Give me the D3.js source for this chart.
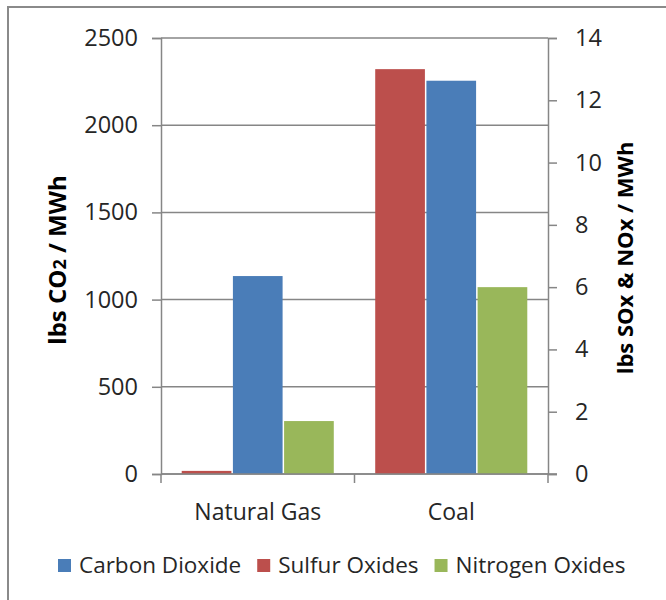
<!DOCTYPE html>
<html>
<head>
<meta charset="utf-8">
<script src="https://cdn.jsdelivr.net/npm/d3@7"></script>
<style>
  html, body { margin: 0; padding: 0; background: #fff; }
  svg { display: block; font-family: "Open Sans", "DejaVu Sans", sans-serif; }
</style>
</head>
<body>
<svg id="chart" width="666" height="600"></svg>
<script>
// ---- data ----
const categories = ["Natural Gas", "Coal"];
const seriesNames = ["Carbon Dioxide", "Sulfur Oxides", "Nitrogen Oxides"];
const carbonDioxide = [1135, 2255];   // lbs CO2 / MWh (left axis)
const sulfurOxides = [0.1, 13.0];     // lbs / MWh (right axis)
const nitrogenOxides = [1.7, 6.0];    // lbs / MWh (right axis)
const leftTicks = [0, 500, 1000, 1500, 2000, 2500];
const rightTicks = [0, 2, 4, 6, 8, 10, 12, 14];

// ---- layout ----
const svg = d3.select("#chart");
const plot = { left: 161, right: 548, top: 38, bottom: 474 };
const colors = { "Carbon Dioxide": "#4A7DB8", "Sulfur Oxides": "#BC4F4C", "Nitrogen Oxides": "#99B75A" };
const axisColor = "#868686";
const textColor = "#262626";

// outer chart border (extends beyond the visible area on right/bottom)
svg.append("rect").attr("x", 8).attr("y", 7).attr("width", 700).attr("height", 700)
  .attr("fill", "none").attr("stroke", "#8a8a8a").attr("stroke-width", 2);

const x = d3.scaleBand().domain(categories).range([plot.left, plot.right]).paddingInner(0).paddingOuter(0);
const barOrder = ["Sulfur Oxides", "Carbon Dioxide", "Nitrogen Oxides"];
const xs = d3.scaleBand().domain(barOrder).range([0, x.bandwidth()]).paddingInner(0).paddingOuter(0.39);
const yL = d3.scaleLinear().domain([0, 2500]).range([plot.bottom, plot.top]);
const yR = d3.scaleLinear().domain([0, 14]).range([plot.bottom, plot.top]);

// gridlines
svg.append("g").selectAll("line").data(leftTicks).join("line")
  .attr("x1", plot.left).attr("x2", plot.right)
  .attr("y1", d => yL(d)).attr("y2", d => yL(d))
  .attr("stroke", axisColor).attr("stroke-width", 1.5);

// bars
const rows = [];
categories.forEach((c, i) => {
  rows.push({ cat: c, s: "Sulfur Oxides", v: sulfurOxides[i], scale: yR });
  rows.push({ cat: c, s: "Carbon Dioxide", v: carbonDioxide[i], scale: yL });
  rows.push({ cat: c, s: "Nitrogen Oxides", v: nitrogenOxides[i], scale: yR });
});
svg.append("g").selectAll("rect").data(rows).join("rect")
  .attr("x", d => x(d.cat) + xs(d.s) + 0.75)
  .attr("width", xs.bandwidth() - 1.5)
  .attr("y", d => d.scale(d.v))
  .attr("height", d => plot.bottom - d.scale(d.v))
  .attr("fill", d => colors[d.s]);

// left axis
const gL = svg.append("g").attr("transform", `translate(${plot.left},0)`)
  .call(d3.axisLeft(yL).tickValues(leftTicks).tickSize(9).tickPadding(14).tickFormat(d3.format("d")));
// right axis
const gR = svg.append("g").attr("transform", `translate(${plot.right},0)`)
  .call(d3.axisRight(yR).tickValues(rightTicks).tickSize(9).tickPadding(18).tickFormat(d3.format("d")));
// bottom axis
const gB = svg.append("g").attr("transform", `translate(0,${plot.bottom})`)
  .call(d3.axisBottom(x).tickSize(0).tickPadding(26));
// category boundary ticks
const boundaries = [plot.left, ...categories.slice(1).map(c => x(c)), plot.right];
gB.append("g").selectAll("line").data(boundaries).join("line")
  .attr("x1", d => d).attr("x2", d => d).attr("y1", 0).attr("y2", 9)
  .attr("stroke", axisColor).attr("stroke-width", 1.5);

[gL, gR, gB].forEach(g => {
  g.select(".domain").attr("stroke", axisColor).attr("stroke-width", 1.5);
  g.selectAll(".tick line").attr("stroke", axisColor).attr("stroke-width", 1.5);
  g.selectAll(".tick text").attr("fill", textColor).attr("font-size", 23.5)
    .attr("font-family", "'Open Sans', sans-serif");
});
gB.selectAll(".tick text").attr("font-size", 23).attr("dy", "0.85em");
gB.select(".domain").attr("d", `M${plot.left},0H${plot.right + 9}`);

// axis titles
const leftTitle = svg.append("text")
  .attr("transform", `translate(66,260) rotate(-90)`)
  .attr("text-anchor", "middle").attr("font-weight", "bold").attr("font-size", 24).attr("fill", "#000");
leftTitle.append("tspan").text("lbs CO");
leftTitle.append("tspan").attr("font-size", 18).text("2");
leftTitle.append("tspan").text(" / MWh");

svg.append("text")
  .attr("transform", `translate(633,258) rotate(-90)`)
  .attr("text-anchor", "middle").attr("font-weight", "bold").attr("font-size", 22).attr("fill", "#000")
  .text("lbs SOx & NOx / MWh");

// legend
const legend = svg.append("g");
let lx = 58;
seriesNames.forEach(name => {
  legend.append("rect").attr("x", lx).attr("y", 559).attr("width", 13).attr("height", 13).attr("fill", colors[name]);
  const t = legend.append("text").attr("x", lx + 21).attr("y", 573)
    .attr("font-size", 22.5).attr("fill", textColor).text(name);
  lx += 21 + t.node().getComputedTextLength() + 16;
});
</script>
</body>
</html>
